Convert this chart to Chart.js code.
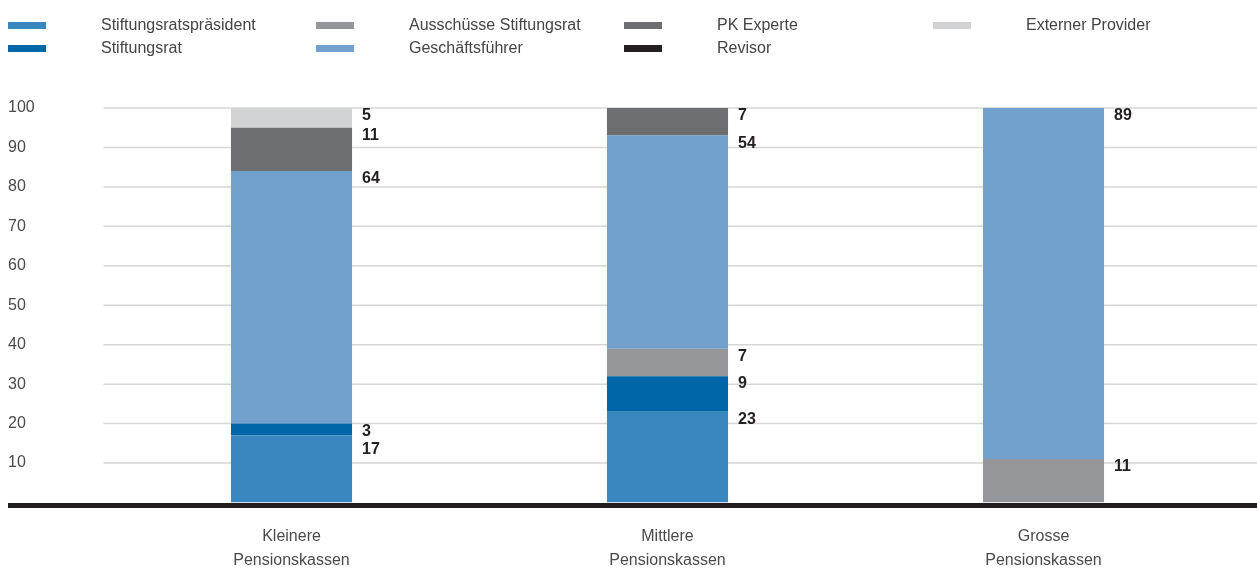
<!DOCTYPE html>
<html>
<head>
<meta charset="utf-8">
<script src="https://cdn.jsdelivr.net/npm/chart.js@4"></script>
<style>
  html, body { margin: 0; padding: 0; background: #fff; }
  #wrap { position: relative; width: 1257px; height: 570px; font-family: "Liberation Sans", Arial, sans-serif; }
  #chart { position: absolute; left: 0; top: 0; }
  .legend-item { position: absolute; height: 20px; }
  .legend-item .swatch { position: absolute; left: 0; top: 7px; width: 38px; height: 7px; }
  .legend-item .label { position: absolute; left: 93px; top: 0; font-size: 16px; line-height: 20px; color: #444; white-space: nowrap; }
</style>
</head>
<body>
<div id="wrap">
  <canvas id="chart" width="1257" height="570"></canvas>
  <div id="legend"></div>
</div>
<script>
const categories = [
  ['Kleinere', 'Pensionskassen'],
  ['Mittlere', 'Pensionskassen'],
  ['Grosse', 'Pensionskassen']
];

const seriesNames = [
  'Stiftungsratspräsident',
  'Stiftungsrat',
  'Ausschüsse Stiftungsrat',
  'Geschäftsführer',
  'PK Experte',
  'Revisor',
  'Externer Provider'
];

const praesident        = [17, 23, 0];
const stiftungsrat      = [3, 9, 0];
const ausschuesse       = [0, 7, 11];
const geschaeftsfuehrer = [64, 54, 89];
const pkExperte         = [11, 7, 0];
const revisor           = [0, 0, 0];
const externer          = [5, 0, 0];

const yTicks = [10, 20, 30, 40, 50, 60, 70, 80, 90, 100];

const colors = ['#3a87c0', '#0066a8', '#959699', '#72a1cd', '#6d6e71', '#231f20', '#d1d2d4'];
const seriesValues = [praesident, stiftungsrat, ausschuesse, geschaeftsfuehrer, pkExperte, revisor, externer];

// legend: 4 columns, filled column by column
const legendCols = [8, 316, 624, 933];
const legendRows = [15, 38];
const legendEl = document.getElementById('legend');
seriesNames.forEach((name, i) => {
  const item = document.createElement('div');
  item.className = 'legend-item';
  item.style.left = legendCols[Math.floor(i / 2)] + 'px';
  item.style.top = legendRows[i % 2] + 'px';
  item.innerHTML = '<div class="swatch" style="background:' + colors[i] + '"></div><div class="label">' + name + '</div>';
  legendEl.appendChild(item);
});

const gridAndAxis = {
  id: 'gridAndAxis',
  beforeDatasetsDraw(chart) {
    const ctx = chart.ctx;
    const y = chart.scales.y;
    ctx.save();
    ctx.strokeStyle = '#d6d6d6';
    ctx.lineWidth = 1.5;
    yTicks.forEach(v => {
      const py = y.getPixelForValue(v);
      ctx.beginPath();
      ctx.moveTo(chart.chartArea.left, py);
      ctx.lineTo(chart.width, py);
      ctx.stroke();
    });
    ctx.restore();
  },
  afterDatasetsDraw(chart) {
    const ctx = chart.ctx;
    const y0 = chart.scales.y.getPixelForValue(0);
    ctx.save();
    ctx.strokeStyle = '#231f20';
    ctx.lineWidth = 5;
    ctx.beginPath();
    ctx.moveTo(8, y0 + 3);
    ctx.lineTo(chart.width, y0 + 3);
    ctx.stroke();

    // value labels right of each segment, pushed apart when they collide
    ctx.font = 'bold 16px "Liberation Sans", Arial, sans-serif';
    ctx.fillStyle = '#231f20';
    ctx.textBaseline = 'middle';
    ctx.textAlign = 'left';
    categories.forEach((c, ci) => {
      let prev = -Infinity;
      for (let di = chart.data.datasets.length - 1; di >= 0; di--) {
        const val = chart.data.datasets[di].data[ci];
        if (!val) continue;
        const bar = chart.getDatasetMeta(di).data[ci];
        let ty = bar.y + 7.5;
        if (ty < prev + 18) ty = prev + 18;
        prev = ty;
        ctx.fillText(String(val), bar.x + bar.width / 2 + 10, ty);
      }
    });
    ctx.restore();
  }
};

new Chart(document.getElementById('chart'), {
  type: 'bar',
  data: {
    labels: categories,
    datasets: seriesNames.map((name, i) => ({
      label: name,
      data: seriesValues[i],
      backgroundColor: colors[i],
      borderWidth: 0,
      barPercentage: 0.322,
      categoryPercentage: 1
    }))
  },
  options: {
    responsive: false,
    animation: false,
    layout: { padding: { top: 108, left: 8, right: 25.5, bottom: 0 } },
    plugins: {
      legend: { display: false },
      tooltip: { enabled: false }
    },
    scales: {
      x: {
        stacked: true,
        grid: { display: false, drawTicks: false },
        border: { display: false },
        ticks: {
          color: '#4a4a4a',
          font: { family: '"Liberation Sans", Arial, sans-serif', size: 16, lineHeight: 1.5 },
          padding: 22,
          maxRotation: 0,
          autoSkip: false
        },
        afterFit(scale) { scale.height = 67.5; }
      },
      y: {
        stacked: true,
        min: 0,
        max: 100,
        grid: { display: false, drawTicks: false },
        border: { display: false },
        ticks: {
          stepSize: 10,
          crossAlign: 'far',
          color: '#4a4a4a',
          font: { family: '"Liberation Sans", Arial, sans-serif', size: 16 },
          callback: v => (v === 0 ? '' : v)
        },
        afterFit(scale) { scale.width = 95.5; }
      }
    }
  },
  plugins: [gridAndAxis]
});
</script>
</body>
</html>
